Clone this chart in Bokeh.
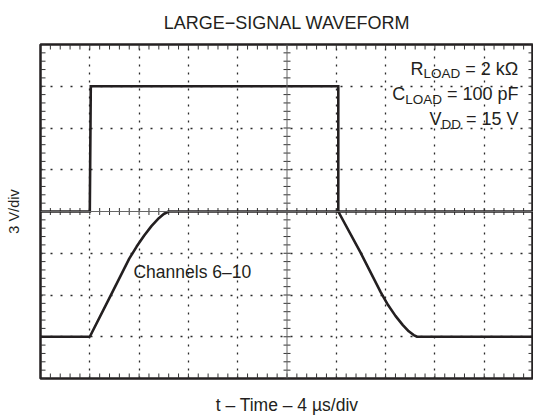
import numpy as np
from bokeh.plotting import figure
from bokeh.models import Label, Span, FixedTicker
from bokeh.embed import file_html
from bokeh.resources import INLINE

# ---- data (in scope divisions) ----
time_in_div = [0.0, 1.0, 1.02, 6.04, 6.04, 10.0]
v_in_div = [4.0, 4.0, 7.0, 7.0, 4.0, 4.0]

time_out_div = [0.0, 1.0, 1.42, 1.8, 1.95, 2.1, 2.25, 2.4, 2.5, 2.6,
                6.04, 6.49, 6.9, 7.05, 7.2, 7.35, 7.47, 7.57, 7.64, 10.0]
v_out_div = [1.0, 1.0, 1.98, 2.87, 3.16, 3.42, 3.65, 3.84, 3.94, 4.0,
             4.0, 3.02, 2.07, 1.76, 1.5, 1.28, 1.13, 1.04, 1.0, 1.0]

title_text = "LARGE\u2212SIGNAL WAVEFORM"
x_label = "t \u2013 Time \u2013 4 \u00b5s/div"
y_label = "3 V/div"
channel_label = "Channels 6\u201310"
cond_lines = [("R", "LOAD", "= 2 k\u03a9"),
              ("C", "LOAD", "= 100 pF"),
              ("V", "DD", "= 15 V")]

FONT = "Liberation Sans"
INK = "#231f20"

# Arial / Liberation Sans advance widths (per em)
AW = {" ": .278, "=": .584, "0": .556, "1": .556, "2": .556, "5": .556,
      "k": .5, "\u03a9": .768, "p": .556, "F": .611, "V": .667, "R": .722,
      "C": .722, "L": .556, "O": .778, "A": .667, "D": .722}


def tw(s, size):
    return sum(AW.get(c, .556) for c in s) * size


p = figure(width=533, height=417, x_range=(0, 10), y_range=(0, 8),
           output_backend="svg", toolbar_location=None,
           min_border_left=40, min_border_right=0, min_border_top=44,
           min_border_bottom=37, background_fill_color="white",
           border_fill_color="white", outline_line_color=INK,
           outline_line_width=2.5)

xa = p.xaxis[0]
ya = p.yaxis[0]
for ax in [xa, ya]:
    ax.ticker = FixedTicker(ticks=[])
    ax.major_tick_in = 0
    ax.major_tick_out = 0
    ax.major_label_standoff = 0
    ax.minor_tick_line_color = None
    ax.major_tick_line_color = None
    ax.axis_line_color = None
    ax.axis_label_text_font = FONT
    ax.axis_label_text_font_style = "normal"
    ax.axis_label_text_color = INK

xa.axis_label = x_label
xa.axis_label_text_font_size = "17.5px"
xa.axis_label_standoff = 16

ya.axis_label = y_label
ya.axis_label_text_font_size = "14.5px"
ya.axis_label_standoff = 19

p.title.text = title_text
p.title.align = "center"
p.title.vertical_align = "top"
p.title.text_font = FONT
p.title.text_font_size = "18px"
p.title.text_font_style = "normal"
p.title.text_color = INK
p.title.standoff = 20

# graticule: dotted division lines
p.xgrid.ticker = FixedTicker(ticks=[1, 2, 3, 4, 6, 7, 8, 9])
p.ygrid.ticker = FixedTicker(ticks=[1, 2, 3, 5, 6, 7])
p.xgrid.grid_line_color = "#2a2a2a"
p.ygrid.grid_line_color = "#2a2a2a"
p.xgrid.grid_line_width = 1.3
p.ygrid.grid_line_width = 1.3
p.xgrid.grid_line_dash = "2 6"
p.ygrid.grid_line_dash = "2 8"

# centre cross lines
p.add_layout(Span(location=5, dimension="height", line_color="#666666", line_width=1))
p.add_layout(Span(location=4, dimension="width", line_color="#666666", line_width=1))

# minor graticule ticks (5 per division) on the edges and the centre cross
xt = np.arange(0, 10.001, 0.2)
yt = np.arange(0, 8.001, 0.2)
TICK = "#333333"
p.scatter(xt, np.full_like(xt, 4.0), marker="dash", angle=np.pi / 2, size=7,
          line_color=TICK, line_width=1)
p.scatter(np.full_like(yt, 5.0), yt, marker="dash", size=7,
          line_color=TICK, line_width=1)
for yy in (0.0, 8.0):
    p.scatter(xt, np.full_like(xt, yy), marker="dash", angle=np.pi / 2,
              size=10, line_color=TICK, line_width=1)
for xx in (0.0, 10.0):
    p.scatter(np.full_like(yt, xx), yt, marker="dash", size=10,
              line_color=TICK, line_width=1)

# waveforms
p.line(time_in_div, v_in_div, line_color=INK, line_width=2.6, line_join="miter")
p.line(time_out_div, v_out_div, line_color=INK, line_width=2.6)

# text annotations
p.add_layout(Label(x=1.886, y=2.55, text=channel_label, text_font=FONT,
                   text_font_size="17.5px", text_color=INK,
                   text_baseline="alphabetic", text_align="left"))

x_right = 9.696
baselines = [7.42, 6.81, 6.21]
MAIN, SUB = 18, 13.5
for (m, s, t), yb in zip(cond_lines, baselines):
    w_m = tw(m, MAIN)
    w_s = tw(s, SUB)
    w_sp = tw(" ", MAIN)
    w_t = tw(t, MAIN)
    x0 = -(w_m + w_s + w_sp + w_t)
    p.add_layout(Label(x=x_right, y=yb, x_offset=x0, text=m,
                       text_font=FONT, text_font_size=f"{MAIN}px",
                       text_color=INK, text_align="left",
                       text_baseline="alphabetic"))
    p.add_layout(Label(x=x_right, y=yb, x_offset=x0 + w_m, y_offset=-5,
                       text=s, text_font=FONT, text_font_size=f"{SUB}px",
                       text_color=INK, text_align="left",
                       text_baseline="alphabetic"))
    p.add_layout(Label(x=x_right, y=yb, x_offset=x0 + w_m + w_s + w_sp,
                       text=t, text_font=FONT, text_font_size=f"{MAIN}px",
                       text_color=INK, text_align="left",
                       text_baseline="alphabetic"))

open("out.html", "w").write(file_html(p, INLINE))
